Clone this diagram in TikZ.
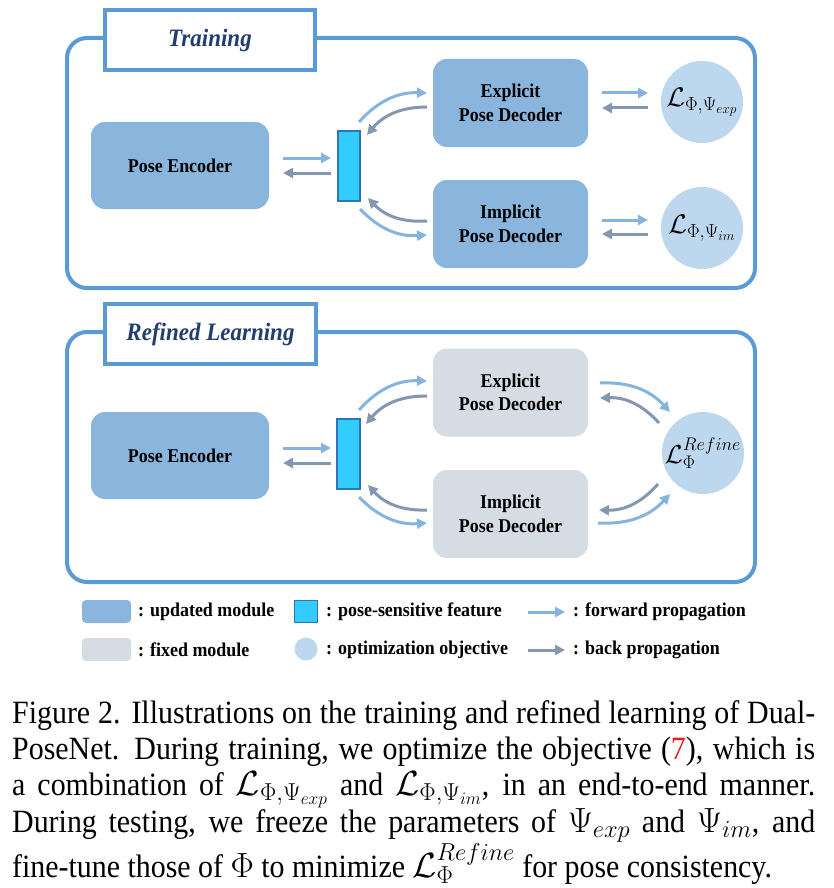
\RequirePackage{fix-cm}
\documentclass[tikz,border=0pt]{standalone}
\usepackage[no-math]{fontspec}
\setmainfont[FakeStretch=0.92]{Liberation Serif}
\usetikzlibrary{arrows.meta}
\definecolor{panelc}{RGB}{91,155,213}
\definecolor{updc}{RGB}{138,182,222}
\definecolor{fixc}{RGB}{214,220,228}
\definecolor{featc}{RGB}{51,204,255}
\definecolor{featb}{RGB}{46,117,182}
\definecolor{lossc}{RGB}{189,215,238}
\definecolor{fwdc}{RGB}{133,180,225}
\definecolor{bwdc}{RGB}{132,151,176}
\definecolor{titlec}{RGB}{33,62,110}
\definecolor{capred}{RGB}{230,30,30}
\newcommand\capmath[1]{{\fontsize{35}{36}\selectfont$#1$}}
\begin{document}
\begin{tikzpicture}[x=1pt,y=-1pt,
  panel/.style={draw=panelc, line width=4pt, rounded corners=20pt},
  titlebox/.style={draw=panelc, line width=4pt, fill=white, minimum width=210pt, minimum height=60pt, inner sep=0pt,
     font=\fontsize{25}{29}\selectfont\bfseries\itshape, text=titlec},
  modtext/.style={font=\fontsize{19.5}{23.5}\selectfont\bfseries, align=center, inner sep=0pt, rounded corners=14pt},
  upd/.style={modtext, fill=updc, minimum width=178pt, minimum height=87pt},
  dec/.style={modtext, minimum width=155pt, minimum height=88pt},
  feat/.style={draw=featb, fill=featc, line width=1.5pt, minimum width=22pt, minimum height=70pt, inner sep=0pt},
  loss/.style={circle, fill=lossc, minimum size=82pt, inner sep=0pt, font=\fontsize{27}{30}\selectfont},
  fwd/.style={draw=fwdc, line width=3pt, -{Triangle[length=10pt,width=10pt]}},
  bwd/.style={draw=bwdc, line width=3pt, -{Triangle[length=10pt,width=10pt]}},
  legtext/.style={font=\fontsize{19.5}{23.5}\selectfont\bfseries, anchor=west, inner sep=0pt}
]
\useasboundingbox (0,0) rectangle (833,888);

% ---------- Training panel ----------
\draw[panel] (67,38) rectangle (755,288);
\node[titlebox] (ttrain) at (210,40) {Training};
\node[upd] (enc1) at (180,165.5) {Pose Encoder};
\node[feat] (feat1) at (349,166) {};
\node[dec, fill=updc] (exp1) at (510.5,103) {Explicit\\Pose Decoder};
\node[dec, fill=updc] (imp1) at (510.5,224) {Implicit\\Pose Decoder};
\node[loss] (lexp) at (702,102) {$\mathcal{L}_{\Phi,\Psi_{exp}}$};
\node[loss] (lim) at (702,228) {$\mathcal{L}_{\Phi,\Psi_{im}}$};

\coordinate (t1a) at (283,158); \coordinate (t1b) at (331,158);
\coordinate (t2a) at (331,173); \coordinate (t2b) at (283,173);
\draw[fwd] (t1a) -- (t1b);
\draw[bwd] (t2a) -- (t2b);
\coordinate (c1a) at (359,122); \coordinate (c1b) at (427,93);
\coordinate (c2a) at (427,107); \coordinate (c2b) at (367,135);
\coordinate (c3a) at (427,221); \coordinate (c3b) at (368,198);
\coordinate (c4a) at (360,209); \coordinate (c4b) at (427,235);
\draw[fwd] (c1a) to[bend left=25] (c1b);
\draw[bwd] (c2a) to[bend right=25] (c2b);
\draw[bwd] (c3a) to[bend left=25] (c3b);
\draw[fwd] (c4a) to[bend right=25] (c4b);
\coordinate (r1a) at (602,93); \coordinate (r1b) at (648,93);
\coordinate (r2a) at (648,108); \coordinate (r2b) at (602,108);
\coordinate (r3a) at (602,220); \coordinate (r3b) at (648,220);
\coordinate (r4a) at (648,234); \coordinate (r4b) at (602,234);
\draw[fwd] (r1a) -- (r1b);
\draw[bwd] (r2a) -- (r2b);
\draw[fwd] (r3a) -- (r3b);
\draw[bwd] (r4a) -- (r4b);

% ---------- Refined learning panel ----------
\draw[panel] (67,332) rectangle (755,582);
\node[titlebox, minimum width=211pt, minimum height=60pt] (trefine) at (210.5,334) {Refined Learning};
\node[upd] (enc2) at (180,455.5) {Pose Encoder};
\node[feat, minimum width=23pt] (feat2) at (348.5,454) {};
\node[dec, fill=fixc] (exp2) at (510.5,392.5) {Explicit\\Pose Decoder};
\node[dec, fill=fixc] (imp2) at (510.5,514) {Implicit\\Pose Decoder};
\node[loss, font=\fontsize{26}{30}\selectfont] (lref) at (703,453) {$\mathcal{L}_{\Phi}^{Refine}$};

\coordinate (u1a) at (283,448); \coordinate (u1b) at (331,448);
\coordinate (u2a) at (331,463); \coordinate (u2b) at (283,463);
\draw[fwd] (u1a) -- (u1b);
\draw[bwd] (u2a) -- (u2b);
\coordinate (d1a) at (359,410); \coordinate (d1b) at (427,381);
\coordinate (d2a) at (427,396); \coordinate (d2b) at (366,424);
\coordinate (d3a) at (427,510); \coordinate (d3b) at (368,485);
\coordinate (d4a) at (359,497); \coordinate (d4b) at (427,523);
\draw[fwd] (d1a) to[bend left=25] (d1b);
\draw[bwd] (d2a) to[bend right=25] (d2b);
\draw[bwd] (d3a) to[bend left=25] (d3b);
\draw[fwd] (d4a) to[bend right=25] (d4b);
\coordinate (e1a) at (600,383); \coordinate (e1b) at (670,412);
\coordinate (e2a) at (659,423); \coordinate (e2b) at (600,398);
\coordinate (e3a) at (658,484); \coordinate (e3b) at (599,510);
\coordinate (e4a) at (598,523); \coordinate (e4b) at (670,494);
\draw[fwd] (e1a) to[bend left=25] (e1b);
\draw[bwd] (e2a) to[bend right=25] (e2b);
\draw[bwd] (e3a) to[bend left=25] (e3b);
\draw[fwd] (e4a) to[bend right=25] (e4b);

% ---------- Legend ----------
\node[fill=updc, rounded corners=4pt, minimum width=49pt, minimum height=23pt, inner sep=0pt] (lg1) at (106.5,611.5) {};
\node[legtext] (lg1t) at (138,612) {: updated module};
\node[fill=fixc, rounded corners=4pt, minimum width=49pt, minimum height=23pt, inner sep=0pt] (lg2) at (106.5,649.5) {};
\node[legtext] (lg2t) at (138,650) {: fixed module};
\node[draw=featb, fill=featc, line width=1.5pt, minimum width=23pt, minimum height=22pt, inner sep=0pt] (lg3) at (306,611.5) {};
\node[legtext] (lg3t) at (326,612) {: pose-sensitive feature};
\node[circle, fill=lossc, minimum size=23pt, inner sep=0pt] (lg4) at (306,649) {};
\node[legtext] (lg4t) at (326,650) {: optimization objective};
\coordinate (lf1) at (528,612); \coordinate (lf2) at (565,612);
\coordinate (lb1) at (528,650); \coordinate (lb2) at (565,650);
\draw[fwd] (lf1) -- (lf2);
\draw[bwd] (lb1) -- (lb2);
\node[legtext] (lg5t) at (573,612) {: forward propagation};
\node[legtext] (lg6t) at (573,650) {: back propagation};

% ---------- Caption ----------
\node[anchor=north west, inner sep=0pt, text width=803pt, align=justify,
      font=\fontsize{32.5}{36}\selectfont] (cap) at (12,700) {\hyphenpenalty=10000\lineskiplimit=-100pt
Figure 2. Illustrations on the training and refined learning of Dual-\linebreak
PoseNet. During training, we optimize the objective (\textcolor{capred}{7}), which is\linebreak
a combination of \capmath{\mathcal{L}_{\Phi,\Psi_{exp}}} and \capmath{\mathcal{L}_{\Phi,\Psi_{im}}}, in an end-to-end manner.\linebreak
During testing, we freeze the parameters of \capmath{\Psi_{exp}} and \capmath{\Psi_{im}}, and\linebreak
fine-tune those of \capmath{\Phi} to minimize \capmath{\mathcal{L}_{\Phi}^{Refine}} for pose consistency.};
\end{tikzpicture}
\end{document}
